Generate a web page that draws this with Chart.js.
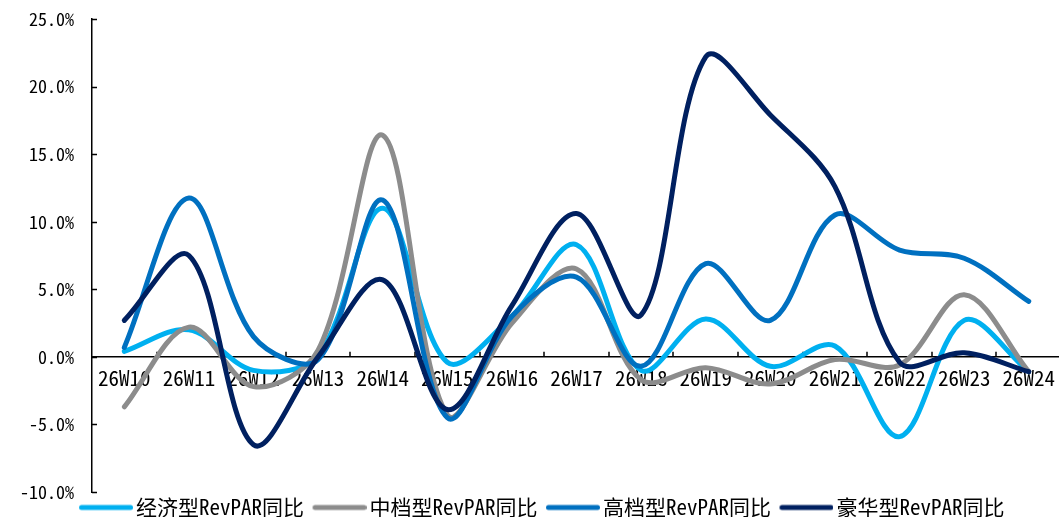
<!DOCTYPE html>
<html>
<head>
<meta charset="utf-8">
<script src="https://cdn.jsdelivr.net/npm/chart.js@4/dist/chart.umd.min.js"></script>
<style>
  html, body { margin: 0; padding: 0; background: #fff; overflow: hidden; }
  #wrap { width: 1064px; height: 517px; }
</style>
</head>
<body>
<div id="wrap"><canvas id="c" width="1064" height="517"></canvas></div>
<script>
const categories = ['26W10','26W11','26W12','26W13','26W14','26W15','26W16','26W17','26W18','26W19','26W20','26W21','26W22','26W23','26W24'];
const seriesNames = ['经济型RevPAR同比','中档型RevPAR同比','高档型RevPAR同比','豪华型RevPAR同比'];
const economy = [0.4, 2.0, -1.0, 0.1, 11.0, -0.4, 3.0, 8.3, -1.0, 2.8, -0.7, 0.8, -5.9, 2.7, -1.1];
const midscale = [-3.7, 2.2, -2.2, 0.5, 16.4, -4.3, 2.5, 6.5, -1.7, -0.8, -2.0, -0.2, -0.6, 4.6, -1.1];
const upscale = [0.7, 11.75, 1.5, -0.2, 11.6, -4.5, 3.0, 5.9, -0.7, 6.9, 2.7, 10.5, 7.9, 7.3, 4.1];
const luxury = [2.7, 7.5, -6.5, 0.0, 5.7, -3.9, 3.8, 10.6, 3.1, 22.2, 17.9, 12.6, -0.4, 0.3, -1.1];
const yTicks = [-10, -5, 0, 5, 10, 15, 20, 25];
const colors = ['#00B0F0', '#8C8C8C', '#0070C0', '#002060'];

const monoFont = '"Noto Sans Mono CJK SC", "DejaVu Sans Mono", monospace';

function legendSwatch(color) {
  const c = document.createElement('canvas');
  c.width = 65; c.height = 8;
  const g = c.getContext('2d');
  g.strokeStyle = color;
  g.lineWidth = 5;
  g.lineCap = 'round';
  g.beginPath();
  g.moveTo(13.5, 4);
  g.lineTo(62.5, 4);
  g.stroke();
  return c;
}

const innerTicks = {
  id: 'innerTicks',
  beforeDatasetsDraw(chart) {
    const ctx = chart.ctx;
    const x = chart.scales.x, y = chart.scales.y;
    const y0 = y.getPixelForValue(0);
    ctx.save();
    ctx.strokeStyle = '#000';
    ctx.lineWidth = 1.5;
    ctx.beginPath();
    yTicks.forEach(v => {
      const py = Math.round(y.getPixelForValue(v)) + 0.5;
      ctx.moveTo(y.right, py);
      ctx.lineTo(y.right + 5, py);
    });
    for (let i = 1; i <= categories.length; i++) {
      const px = Math.round(x.getPixelForValue(i - 0.5));
      ctx.moveTo(px, y0);
      ctx.lineTo(px, y0 - 5);
    }
    ctx.stroke();
    ctx.restore();
  }
};

const data = {
  labels: categories,
  datasets: [economy, midscale, upscale, luxury].map((vals, i) => ({
    label: seriesNames[i],
    data: vals,
    borderColor: colors[i],
    backgroundColor: colors[i],
    borderWidth: 5,
    pointRadius: 0,
    tension: 0.34,
    fill: false,
    borderCapStyle: 'round',
    borderJoinStyle: 'round',
    order: 4 - i
  }))
};

new Chart(document.getElementById('c'), {
  type: 'line',
  data,
  options: {
    responsive: false,
    animation: false,
    devicePixelRatio: 1,
    layout: { padding: { top: 19, left: 16, right: 0, bottom: 0 } },
    plugins: {
      tooltip: { enabled: false },
      legend: {
        position: 'bottom',
        maxHeight: 25,
        labels: {
          sort: (a, b) => a.datasetIndex - b.datasetIndex,
          usePointStyle: true,
          pointStyleWidth: 50,
          padding: 5,
          color: '#000',
          font: { family: monoFont, size: 21 },
          generateLabels(chart) {
            return chart.data.datasets.map((ds, i) => ({
              text: ds.label,
              fillStyle: ds.borderColor,
              strokeStyle: ds.borderColor,
              lineWidth: 0,
              pointStyle: legendSwatch(ds.borderColor),
              hidden: false,
              datasetIndex: i,
              fontColor: '#000'
            }));
          }
        }
      }
    },
    scales: {
      x: {
        type: 'category',
        offset: true,
        position: { y: 0 },
        grid: { display: false, drawTicks: false },
        border: { display: true, color: '#000', width: 1.5 },
        ticks: {
          color: '#000',
          font: { family: monoFont, size: 21 },
          padding: 9,
          maxRotation: 0,
          autoSkip: false
        }
      },
      y: {
        min: -10,
        max: 25,
        afterFit(scale) {
          scale.width = 76;
          scale.paddingTop = 0;
          scale.paddingBottom = 0;
        },
        afterBuildTicks(scale) { scale.ticks = yTicks.map(v => ({ value: v })); },
        grid: { display: false, drawTicks: false },
        border: { display: true, color: '#000', width: 1.5 },
        ticks: {
          color: '#000',
          font: { family: monoFont, size: 18 },
          padding: 18,
          callback: v => v.toFixed(1) + '%'
        }
      }
    }
  },
  plugins: [innerTicks]
});
</script>
</body>
</html>
